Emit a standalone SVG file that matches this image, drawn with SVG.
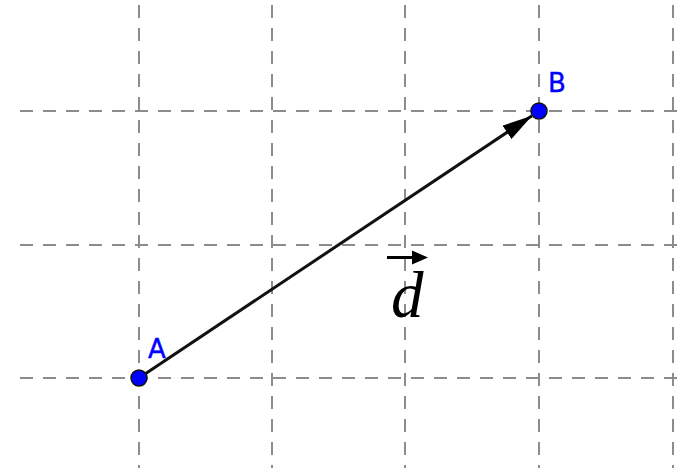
<svg xmlns="http://www.w3.org/2000/svg" width="687" height="472" viewBox="0 0 687 472">
<style>
.grid line{stroke:#8c8c8c;stroke-width:2;stroke-dasharray:13 10;}
.pt{fill:#0000ff;stroke:#111;stroke-width:1.5;}
.lbl{font-family:"DejaVu Sans","Liberation Sans",sans-serif;font-size:26px;fill:#0000ff;stroke:#0000ff;stroke-width:0.4;}
.vec{stroke:#111;stroke-width:3;}
</style>
<defs>
<marker id="ah" viewBox="0 0 30 16" refX="30" refY="8" markerWidth="30" markerHeight="16" markerUnits="userSpaceOnUse" orient="auto">
<path d="M0,0 L30,8 L0,16 Z" fill="#000"/>
</marker>
</defs>
<rect width="687" height="472" fill="#fff"/>
<g class="grid">
<line x1="20" y1="111" x2="684" y2="111"/>
<line x1="20" y1="245" x2="684" y2="245"/>
<line x1="20" y1="378" x2="684" y2="378"/>
<line x1="139" y1="5" x2="139" y2="468"/>
<line x1="272" y1="5" x2="272" y2="468"/>
<line x1="405" y1="5" x2="405" y2="468"/>
<line x1="539" y1="5" x2="539" y2="468"/>
<line x1="673" y1="5" x2="673" y2="468"/>
</g>
<g id="connectors">
<line class="vec" x1="139" y1="378" x2="532" y2="115.7" marker-end="url(#ah)"/>
</g>
<g id="A">
<circle class="pt" cx="139" cy="378" r="8"/>
<text class="lbl" x="148" y="358">A</text>
</g>
<g id="B">
<circle class="pt" cx="539" cy="111" r="8"/>
<text class="lbl" x="548" y="92">B</text>
</g>
<g id="d">
<line x1="387" y1="257.5" x2="414" y2="257.5" stroke="#000" stroke-width="3"/>
<path d="M412,250.5 L428,257.5 L412,264.5 Z" fill="#000"/>
<text x="391" y="317" font-family="'Liberation Serif','Times New Roman',serif" font-style="italic" font-size="65" fill="#000">d</text>
</g>
</svg>
